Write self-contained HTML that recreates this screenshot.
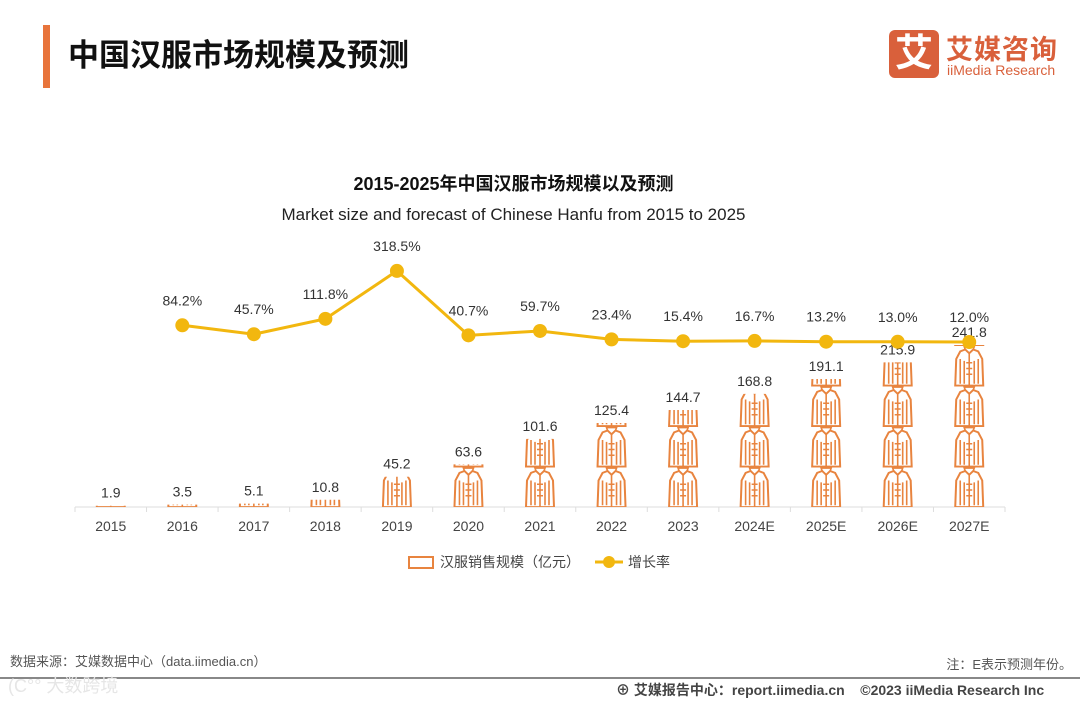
<!DOCTYPE html>
<html><head><meta charset="utf-8">
<style>
body{margin:0;width:1080px;height:702px;background:#fff;font-family:"Liberation Sans","Noto Sans CJK SC",sans-serif;overflow:hidden;position:relative}
.abs{position:absolute}
</style></head>
<body>
<div class="abs" style="left:43px;top:25px;width:7px;height:63px;background:#e8743b"></div>
<div class="abs" style="left:68px;top:30px;font-size:31px;font-weight:bold;color:#111">中国汉服市场规模及预测</div>
<div class="abs" style="left:889px;top:30px;width:50px;height:48px;background:#d9603b;border-radius:6px;color:#fff;font-size:38px;font-weight:bold;text-align:center;line-height:48px">艾</div>
<div class="abs" style="left:946px;top:28px;font-size:27px;font-weight:bold;color:#d9603b;letter-spacing:1px">艾媒咨询</div>
<div class="abs" style="left:947px;top:62px;font-size:14px;color:#d9603b">iiMedia Research</div>

<div class="abs" style="left:0;width:1027px;top:170px;text-align:center;font-size:18px;font-weight:bold;color:#111">2015-2025年中国汉服市场规模以及预测</div>
<div class="abs" style="left:0;width:1027px;top:205px;text-align:center;font-size:17px;color:#222">Market size and forecast of Chinese Hanfu from 2015 to 2025</div>

<svg class="abs" style="left:0;top:0" width="1080" height="702" id="chart">
<defs>
<g id="hanfu">
<path d="M-9,-38 L-4,-40 L0,-36 L4,-40 L9,-38 L13,-30 L14,-2 L-14,-2 L-13,-30 Z" fill="none" stroke="#e8843f" stroke-width="2"/>
<path d="M-9,-30 L-9,-4 M9,-30 L9,-4 M-5,-28 L-5,-4 M5,-28 L5,-4 M0,-36 L0,-2 M-3,-26 L3,-26 M-3,-20 L3,-20 M-3,-14 L3,-14" stroke="#e8843f" stroke-width="1.6" fill="none"/>
<path d="M-4,-40 L-5,-43 L5,-43 L4,-40" fill="none" stroke="#e8843f" stroke-width="1.6"/>
</g>
</defs>
</svg>

<div class="abs" style="left:10px;top:651px;font-size:13px;color:#555">数据来源：艾媒数据中心（data.iimedia.cn）</div>
<div class="abs" style="right:8px;top:654px;font-size:13px;color:#555">注：E表示预测年份。</div>
<div class="abs" style="left:0;top:677px;width:1080px;height:2px;background:#888"></div>
<div class="abs" style="left:8px;top:672px;font-size:18px;color:#e6e6e6">(C°° 大数跨境</div>
<div class="abs" style="left:616px;top:680px;font-size:14px;color:#444;font-weight:bold">⊕ 艾媒报告中心：report.iimedia.cn &nbsp;&nbsp;&nbsp;©2023 iiMedia Research Inc</div>

<script>
const categories=["2015","2016","2017","2018","2019","2020","2021","2022","2023","2024E","2025E","2026E","2027E"];
const sizeValues=[1.9,3.5,5.1,10.8,45.2,63.6,101.6,125.4,144.7,168.8,191.1,215.9,241.8];
const growthValues=[null,84.2,45.7,111.8,318.5,40.7,59.7,23.4,15.4,16.7,13.2,13.0,12.0];
const growthLabels=["","84.2%","45.7%","111.8%","318.5%","40.7%","59.7%","23.4%","15.4%","16.7%","13.2%","13.0%","12.0%"];
const NS="http://www.w3.org/2000/svg";
const svg=document.getElementById('chart');
const x0=75,x1=1005,baseY=507;
const step=(x1-x0)/categories.length;
const xPos=i=>x0+step*(i+0.5);
const yBar=v=>baseY-v*0.67;
const yLine=v=>344.8-v*0.232;
const iconH=40.5;
function mk(t,a){const e=document.createElementNS(NS,t);for(const k in a)e.setAttribute(k,a[k]);svg.appendChild(e);return e;}
const axis=mk('line',{x1:x0,y1:baseY,x2:x1,y2:baseY,stroke:'#ddd','stroke-width':1});


for(let i=0;i<=categories.length;i++){
  const t=mk('line',{x1:x0+step*i,y1:baseY,x2:x0+step*i,y2:baseY+5,stroke:'#ddd'});
  
  
}
categories.forEach((c,i)=>{
  const cx=xPos(i),v=sizeValues[i],top=yBar(v);
  const clip=mk('clipPath',{id:'c'+i});
  const r=document.createElementNS(NS,'rect');
  r.setAttribute('x',cx-20);r.setAttribute('y',top);r.setAttribute('width',40);r.setAttribute('height',baseY-top);
  clip.appendChild(r);
  const g=mk('g',{'clip-path':'url(#c'+i+')'});
  
  
  const n=Math.ceil((baseY-top)/iconH)+1;
  for(let k=0;k<n;k++){
    const u=document.createElementNS(NS,'use');
    u.setAttribute('href','#hanfu');
    u.setAttribute('transform','translate('+cx+','+(baseY+2-k*iconH)+') scale(1,0.95)');
    g.appendChild(u);
  }
  const lbl=mk('text',{x:cx,y:top-8,'text-anchor':'middle','font-size':14,fill:'#333'});
  lbl.textContent=v;
  
  
  const xl=mk('text',{x:cx,y:531,'text-anchor':'middle','font-size':14,fill:'#444'});
  xl.textContent=c;
  
  
});
let pts=[];
growthValues.forEach((v,i)=>{if(v!==null)pts.push([xPos(i),yLine(v)]);});
const pl=mk('polyline',{points:pts.map(p=>p.join(',')).join(' '),fill:'none',stroke:'#f2b70f','stroke-width':3});


growthValues.forEach((v,i)=>{
  if(v===null)return;
  const cx=xPos(i),cy=yLine(v);
  const c=mk('circle',{cx:cx,cy:cy,r:7,fill:'#f2b70f'});
  
  
  const t=mk('text',{x:cx,y:cy-20,'text-anchor':'middle','font-size':14,fill:'#333'});
  t.textContent=growthLabels[i];
  
  
});
const lg=mk('g',{});


const li=mk('rect',{x:409,y:557,width:24,height:11,fill:'none',stroke:'#e8843f','stroke-width':2});


const lt1=mk('text',{x:440,y:567,'font-size':14,fill:'#444'});lt1.textContent='汉服销售规模（亿元）';


const ll=mk('line',{x1:595,y1:562,x2:623,y2:562,stroke:'#f2b70f','stroke-width':3});


const lc=mk('circle',{cx:609,cy:562,r:6,fill:'#f2b70f'});


const lt2=mk('text',{x:628,y:567,'font-size':14,fill:'#444'});lt2.textContent='增长率';


</script>
</body></html>
